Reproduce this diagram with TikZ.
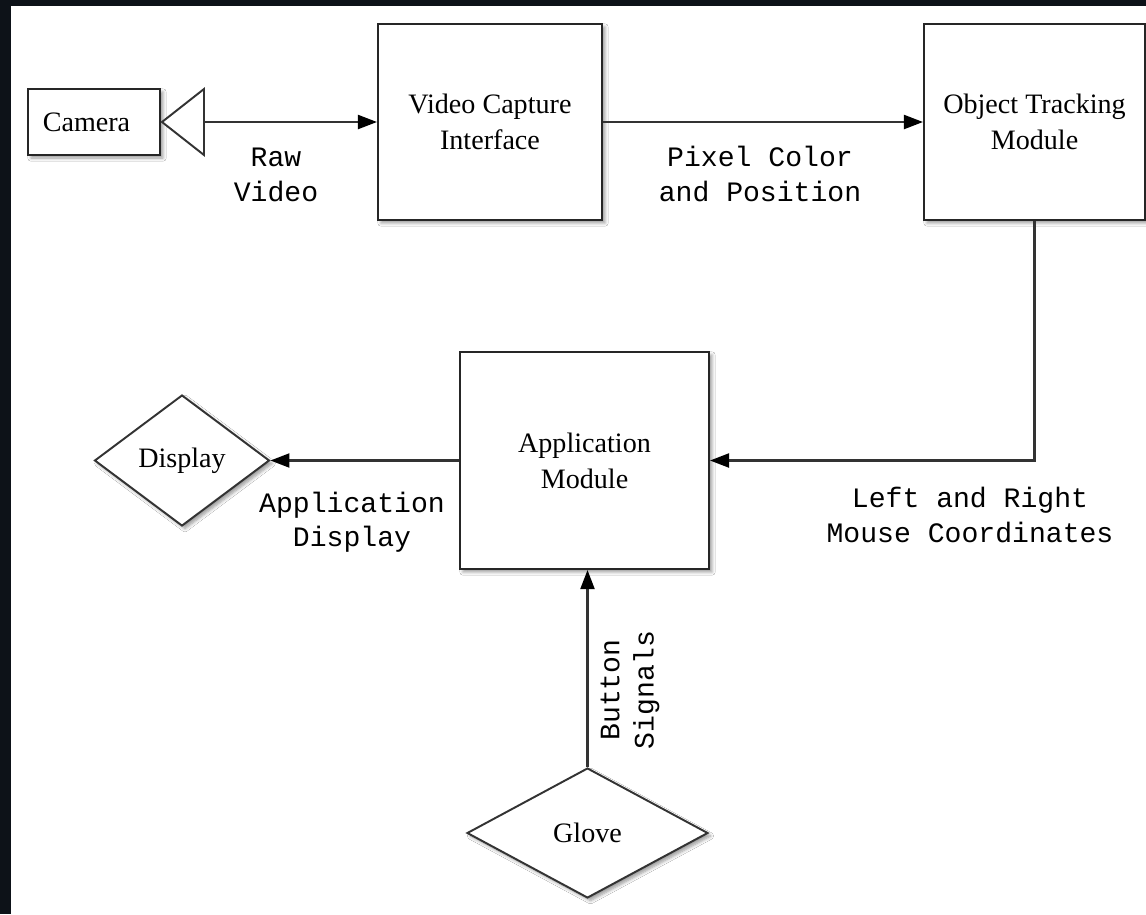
\documentclass[tikz,border=0pt]{standalone}
\usepackage{fontspec}
\setmainfont{Liberation Serif}
\setmonofont{Liberation Mono}
\usepackage{xcolor}
\usepackage{tikz}
\usetikzlibrary{positioning, arrows.meta, shapes.geometric, shadows.blur}

\definecolor{bgdark}{HTML}{0D1218}
\definecolor{wire}{HTML}{333333}

\begin{document}
\begin{tikzpicture}[x=0.02cm, y=-0.02cm,
    block/.style={rectangle, draw=black!85, line width=1.2pt, fill=white, align=center, inner sep=0pt, font=\fontsize{16}{20.5}\selectfont, blur shadow={shadow xshift=0.06cm, shadow yshift=-0.06cm, shadow blur steps=6}},
    device/.style={diamond, draw=black!80, line width=1.1pt, fill=white, inner sep=0pt, font=\fontsize{16}{20.5}\selectfont, blur shadow={shadow xshift=0.06cm, shadow yshift=-0.06cm, shadow blur steps=6}},
    signal/.style={align=center, font=\ttfamily\fontsize{16}{19.5}\selectfont},
    flow/.style={-{Triangle[length=0.38cm, width=0.28cm, color=black]}, draw=wire, line width=1.2pt}
]

\fill[bgdark] (0,0) rectangle (1146,914);
\useasboundingbox (0,0) rectangle (1146,914);
\fill[white] (11,6) rectangle (1146,914);

\node[block, minimum width=2.64cm, minimum height=1.32cm] (camera) at (94,122) {Camera\hspace{0.3cm}};
\node[block, minimum width=4.48cm, minimum height=3.92cm] (capture) at (490,122) {Video Capture\\Interface};
\node[block, minimum width=4.42cm, minimum height=3.92cm] (tracking) at (1034.5,122) {Object Tracking\\Module};
\node[block, minimum width=4.98cm, minimum height=4.34cm] (application) at (584.5,460.5) {Application\\Module};
\node[device, minimum width=3.5cm, minimum height=2.62cm] (display) at (182,460.5) {Display};
\node[device, minimum width=4.82cm, minimum height=2.6cm] (glove) at (587.5,833) {Glove};

\draw[draw=black!80, line width=1.1pt, fill=white] (162,122) -- (204,89) -- (204,155) -- cycle;
\coordinate (lens) at (204,122);

\draw[flow] (lens) -- (capture.west);
\draw[flow] (capture.east) -- (tracking.west);
\draw[flow] (tracking.south) |- (application.east);
\draw[flow] (application.west) -- (display.east);
\draw[flow] (glove.north) -- (glove.north |- application.south);

\node[signal] (rawvideo) at (276,175) {Raw\\Video};
\node[signal] (pixels) at (760,174) {Pixel Color\\and Position};
\node[signal] (mouse) at (970,515) {Left and Right\\Mouse Coordinates};
\node[signal] (appdisplay) at (352,522) {Application\\Display};
\node[signal, rotate=90] (buttons) at (630,690) {Button\\Signals};

\end{tikzpicture}
\end{document}
